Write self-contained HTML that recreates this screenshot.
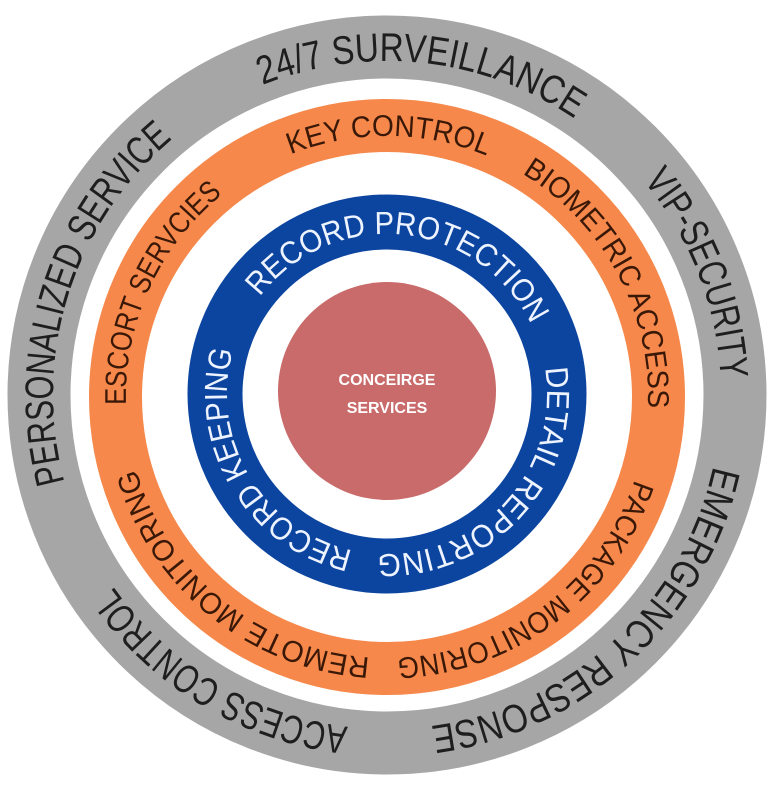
<!DOCTYPE html>
<html><head><meta charset="utf-8"><style>
html,body{margin:0;padding:0;background:#fff;}
svg{display:block;}
text{font-family:"Liberation Sans",sans-serif;}
</style></head><body>
<svg width="771" height="787" viewBox="0 0 771 787" xmlns="http://www.w3.org/2000/svg">
<defs>
<path id="pg" d="M387,61 A334,334 0 1 1 387,729 A334,334 0 1 1 387,61 A334,334 0 1 1 387,729 A334,334 0 1 1 387,61"/>
<path id="po" d="M387,136 A261,261 0 1 1 387,658 A261,261 0 1 1 387,136 A261,261 0 1 1 387,658 A261,261 0 1 1 387,136"/>
<path id="pb" d="M387,234 A160,160 0 1 1 387,554 A160,160 0 1 1 387,234 A160,160 0 1 1 387,554 A160,160 0 1 1 387,234"/>
</defs>
<circle cx="387" cy="395" r="348" fill="none" stroke="#a6a6a6" stroke-width="63"/>
<circle cx="387" cy="397" r="271.5" fill="none" stroke="#f5884a" stroke-width="53"/>
<circle cx="387" cy="394" r="172" fill="none" stroke="#0c45a0" stroke-width="55"/>
<circle cx="387" cy="391" r="109" fill="#c96b6b"/>

<g font-size="40" fill="#1e1e1e">
<text><textPath href="#pg" startOffset="1970" textLength="327" lengthAdjust="spacingAndGlyphs">24/7 SURVEILLANCE</textPath></text>
<text><textPath href="#pg" startOffset="292" textLength="216" lengthAdjust="spacingAndGlyphs">VIP-SECURITY</textPath></text>
<text><textPath href="#pg" startOffset="596" textLength="409" lengthAdjust="spacingAndGlyphs">EMERGENCY RESPONSE</textPath></text>
<text><textPath href="#pg" startOffset="1088" textLength="281" lengthAdjust="spacingAndGlyphs">ACCESS CONTROL</textPath></text>
<text><textPath href="#pg" startOffset="1485" textLength="380" lengthAdjust="spacingAndGlyphs">PERSONALIZED SERVICE</textPath></text>
</g>
<g font-size="30" fill="#3a1808">
<text><textPath href="#po" startOffset="1541" textLength="201" lengthAdjust="spacingAndGlyphs">KEY CONTROL</textPath></text>
<text><textPath href="#po" startOffset="142" textLength="279" lengthAdjust="spacingAndGlyphs">BIOMETRIC ACCESS</textPath></text>
<text><textPath href="#po" startOffset="494" textLength="316" lengthAdjust="spacingAndGlyphs">PACKAGE MONITORING</textPath></text>
<text><textPath href="#po" startOffset="837" textLength="320" lengthAdjust="spacingAndGlyphs">REMOTE MONITORING</textPath></text>
<text><textPath href="#po" startOffset="1222" textLength="240" lengthAdjust="spacingAndGlyphs">ESCORT SERVCIES</textPath></text>
</g>
<g font-size="32" fill="#eef4ff">
<text><textPath href="#pb" startOffset="858" textLength="326" lengthAdjust="spacingAndGlyphs">RECORD PROTECTION</textPath></text>
<text><textPath href="#pb" startOffset="225" textLength="287" lengthAdjust="spacingAndGlyphs">DETAIL REPORTING</textPath></text>
<text><textPath href="#pb" startOffset="537" textLength="261" lengthAdjust="spacingAndGlyphs">RECORD KEEPING</textPath></text>
</g>
<g font-size="16" font-weight="bold" fill="#fff" text-anchor="middle">
<text x="387" y="385">CONCEIRGE</text>
<text x="387" y="413">SERVICES</text>
</g>
</svg>
</body></html>
